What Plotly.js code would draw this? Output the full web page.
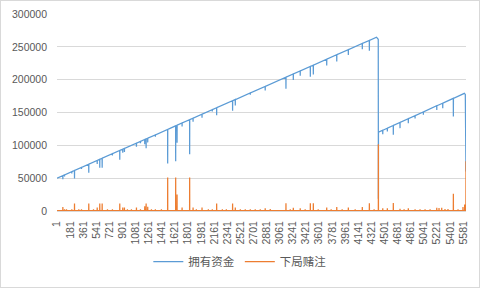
<!DOCTYPE html>
<html>
<head>
<meta charset="utf-8">
<script src="https://cdn.plot.ly/plotly-3.0.1.min.js"></script>
<style>
html,body{margin:0;padding:0;background:#fff;}
#wrap{position:relative;width:480px;height:288px;}
#chart{width:480px;height:288px;}
#frame{position:absolute;left:0;top:0;width:478px;height:286px;border:1px solid #d9d9d9;pointer-events:none;}
</style>
</head>
<body>
<div id="wrap"><div id="chart"></div><div id="frame"></div></div>
<script>
// 拥有资金 (funds) (round index, value)
const fundX = [1,
  80,81,82, 103,104,105, 203,204,205, 240,241,242, 336,337,338,
  436,437,438, 552,553,554, 587,588,589, 620,621,622, 761,762,763,
  862,863,864, 903,904,905, 926,927,928, 1091,1092,1093, 1146,1147,1148,
  1205,1206,1207, 1224,1225,1226, 1246,1247,1248, 1351,1352,1353,
  1520,1521,1522, 1630,1631,1632, 1649,1650,1651, 1718,1719,1720,
  1822,1823,1824, 1869,1870,1871, 1992,1993,1994, 2133,2134,2135,
  2193,2194,2195, 2412,2413,2414, 2449,2450,2451, 2655,2656,2657,
  2860,2861,2862, 3145,3146,3147, 3246,3247,3248, 3341,3342,3343,
  3480,3481,3482, 3521,3522,3523, 3705,3706,3707, 3843,3844,3845,
  4002,4003,4004, 4194,4195,4196, 4291,4292,4293,
  4390, 4414,4416,4417,
  4475,4476,4477, 4538,4539,4540, 4620,4621,4622, 4712,4713,4714,
  4826,4827,4828, 4919,4920,4921, 5033,5034,5035, 5217,5218,5219,
  5299,5300,5301, 5445,5446,5447,
  5597, 5610,5619];
const fundY = [50000,
  53900,48500,53900, 55000,52500,55000, 59900,57200,59900, 61700,49500,61700, 66400,63900,66400,
  71300,58400,71300, 77000,71500,77000, 78700,65800,78700, 80300,66000,80300, 87200,84700,87200,
  92100,78000,92100, 94100,88700,94100, 95200,89800,95200, 103300,97900,103300, 106000,103200,106000,
  108900,101500,108900, 109800,95500,109800, 110900,104500,110900, 116000,113200,116000,
  124300,72300,124300, 129700,75700,129700, 130600,104000,130600, 134000,128600,134000,
  139000,86600,139000, 141300,135900,141300, 147400,142000,147400, 154300,151500,154300,
  157200,145800,157200, 167900,152500,167900, 169700,160800,169700, 179800,177000,179800,
  189800,183700,189800, 203700,186000,203700, 208700,199400,208700, 213300,206000,213300,
  220100,204500,220100, 222100,208000,222100, 231100,221700,231100, 237900,227700,237900,
  245700,237600,245700, 255100,246500,255100, 259800,244000,259800,
  264600, 261500,18500,120000,
  122900,117000,122900, 126100,121000,126100, 130200,116300,130200, 134800,126200,134800,
  140500,133600,140500, 145200,141000,145200, 150900,146500,150900, 160200,154000,160200,
  164300,156400,164300, 171600,144000,171600,
  179200, 177500,60000];

// 下局赌注 (next bet)
const betX = [1,
  80,81,82, 103,104,105, 130,131,132, 203,204,205, 240,241,242, 299,300,301, 336,337,338,
  436,437,438, 501,502,503, 552,553,554, 587,588,589, 620,621,622, 693,694,695, 761,762,763,
  862,863,864, 903,904,905, 926,927,928, 967,968,969, 1022,1023,1024, 1091,1092,1093,
  1146,1147,1148, 1205,1206,1207, 1224,1225,1226, 1246,1247,1248, 1297,1298,1299,
  1351,1352,1353, 1434,1435,1436, 1520,1521,1522, 1630,1631,1632, 1649,1650,1651,
  1718,1719,1720, 1822,1823,1824, 1869,1870,1871, 1914,1915,1916, 1992,1993,1994,
  2079,2080,2081, 2133,2134,2135, 2193,2194,2195, 2271,2272,2273, 2326,2327,2328,
  2412,2413,2414, 2449,2450,2451, 2518,2519,2520, 2586,2587,2588, 2655,2656,2657,
  2723,2724,2725, 2792,2793,2794, 2860,2861,2862, 2929,2930,2931, 3145,3146,3147,
  3204,3205,3206, 3246,3247,3248, 3341,3342,3343, 3409,3410,3411, 3480,3481,3482,
  3521,3522,3523, 3588,3589,3590, 3705,3706,3707, 3766,3767,3768, 3843,3844,3845,
  3917,3918,3919, 4002,4003,4004, 4096,4097,4098, 4194,4195,4196, 4291,4292,4293,
  4356,4357,4358, 4415,4416,4417, 4475,4476,4477, 4538,4539,4540, 4620,4621,4622,
  4712,4713,4714, 4768,4769,4770, 4826,4827,4828, 4919,4920,4921, 4987,4988,4989,
  5056,5057,5058, 5125,5126,5127, 5217,5218,5219, 5248,5249,5250, 5285,5286,5287,
  5330,5331,5332, 5371,5372,5373, 5445,5446,5447, 5509,5510,5511, 5577,5578,5579,
  5600,5601,5602, 5618,5619];
const betY = [600,
  600,5900,600, 600,2800,600, 600,2800,600, 600,2800,600, 600,11400,600, 600,2500,600, 600,2500,600,
  600,11400,600, 600,2500,600, 600,5400,600, 600,11400,600, 600,11400,600, 600,2500,600, 600,2500,600,
  600,11400,600, 600,5400,600, 600,5400,600, 600,2800,600, 600,2800,600, 600,5400,600,
  600,2800,600, 600,7400,600, 600,11400,600, 600,6400,600, 600,2800,600,
  600,2800,600, 600,2500,600, 600,51000,600, 600,51000,600, 600,25000,600,
  600,5400,600, 600,51000,600, 600,5400,600, 600,2800,600, 600,5400,600,
  600,2500,600, 600,2800,600, 600,11400,600, 600,2800,600, 600,2800,600,
  600,11400,600, 600,5400,600, 600,2800,600, 600,2800,600, 600,2800,600,
  600,2800,600, 600,2800,600, 600,4000,600, 600,3000,600, 600,11900,600,
  600,2800,600, 600,5000,600, 600,4000,600, 600,2500,600, 600,11900,600,
  600,11900,600, 600,2800,600, 600,5400,600, 600,2500,600, 600,6000,600,
  600,2500,600, 600,5400,600, 600,2500,600, 600,6000,600, 600,11900,600,
  600,2500,600, 600,101500,600, 600,4000,600, 600,4000,600, 600,12300,600,
  600,3500,600, 600,2500,600, 600,4000,600, 600,2500,600, 600,2800,600,
  600,2800,600, 600,2500,600, 600,5000,600, 600,4500,600, 600,5000,600,
  600,3000,600, 600,3000,600, 600,26300,600, 600,2500,600, 600,6000,600,
  600,9900,600, 600,75700];

const seriesNames = ['拥有资金', '下局赌注'];
const tickVals = [1,181,361,541,721,901,1081,1261,1441,1621,1801,1981,2161,2341,2521,2701,
  2881,3061,3241,3421,3601,3781,3961,4141,4321,4501,4681,4861,5041,5221,5401,5581];
const tickText = ['1','181','361','541','721','901','1081','1261','1441','1621','1801','1981','2161','2341','2521','2701',
  '2881','3061','3241','3421','3601','3781','3961','4141','4321','4501','4681','4861','5041','5221','5401','5581'];
const yTicks = [0,50000,100000,150000,200000,250000,300000];
const nPoints = 5619;

const font = {family: 'Liberation Sans, Arial, sans-serif', size: 10.5, color: '#595959'};
const traces = [
  {x: fundX, y: fundY, name: seriesNames[0], type: 'scatter', mode: 'lines',
   line: {color: '#5b9bd5', width: 1.25}},
  {x: betX, y: betY, name: seriesNames[1], type: 'scatter', mode: 'lines',
   line: {color: '#ed7d31', width: 1.25}}
];
const layout = {
  width: 480, height: 288,
  margin: {l: 57, r: 14, t: 14, b: 72},
  paper_bgcolor: '#ffffff', plot_bgcolor: '#ffffff',
  font: font,
  showlegend: true,
  legend: {orientation: 'h', x: 0.447, xanchor: 'center', y: -0.257, yanchor: 'middle',
    font: {family: 'Noto Sans CJK SC, sans-serif', size: 11.5, color: '#595959'},
    itemwidth: 30, tracegroupgap: 0},
  xaxis: {type: 'linear', range: [0.5, nPoints + 0.5], tickmode: 'array', tickvals: tickVals, ticktext: tickText,
    tickangle: -90, showgrid: false, zeroline: false, showline: true, linecolor: '#d9d9d9', linewidth: 1,
    ticks: '', tickfont: font, automargin: false, ticklabelstandoff: 5},
  yaxis: {range: [0, 300000], tickmode: 'array', tickvals: yTicks, showgrid: true, gridcolor: '#d9d9d9',
    gridwidth: 1, zeroline: false, showline: false, ticks: '', tickfont: font, ticklen: 0,
    automargin: false, tickformat: 'd', ticklabelstandoff: 9},
  hovermode: false
};
Plotly.newPlot('chart', traces, layout, {displayModeBar: false, staticPlot: true});
</script>
</body>
</html>
